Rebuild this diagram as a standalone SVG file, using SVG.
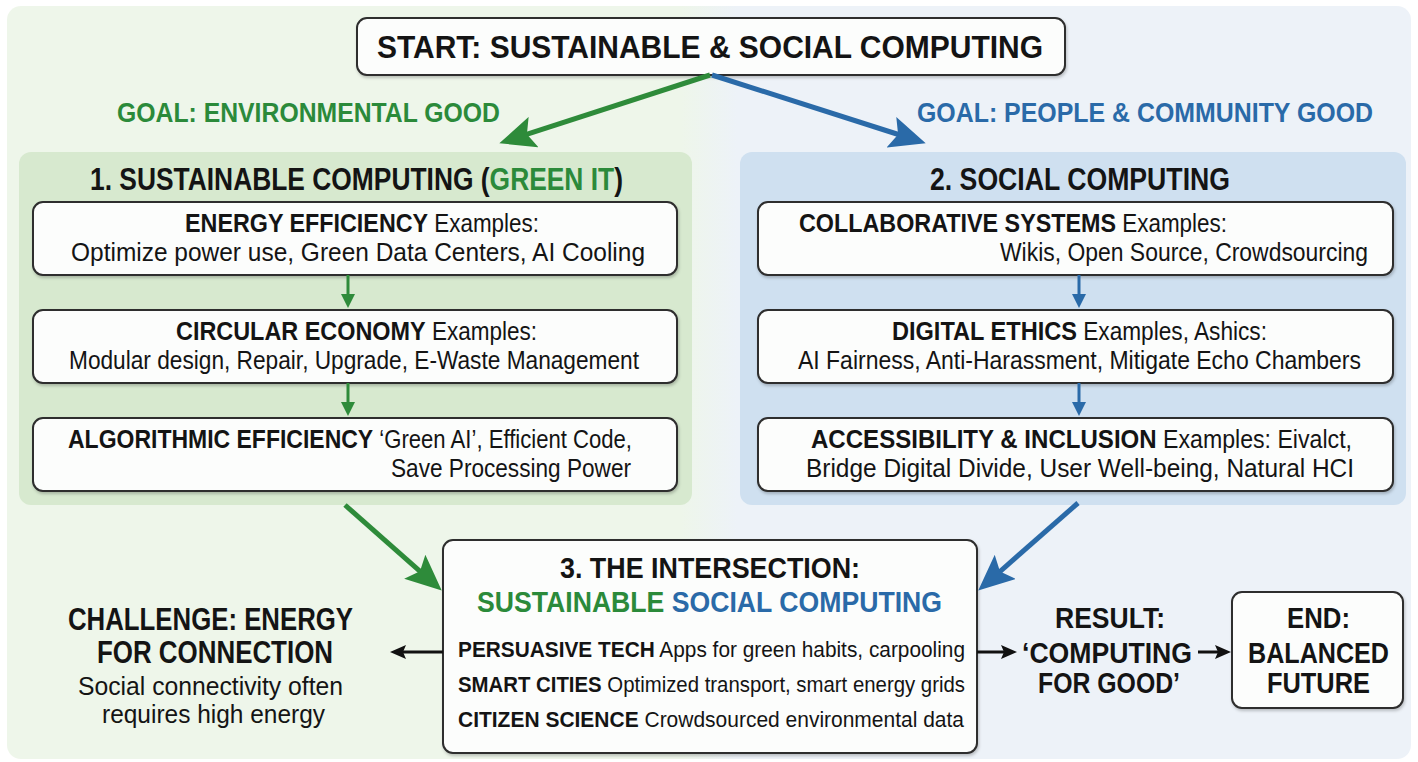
<svg xmlns="http://www.w3.org/2000/svg" width="1418" height="762" viewBox="0 0 1418 762">
  <defs>
    <linearGradient id="bg" x1="0" y1="0" x2="1" y2="0">
      <stop offset="0" stop-color="#eef6ea"/>
      <stop offset="0.48" stop-color="#eef6ea"/>
      <stop offset="0.52" stop-color="#edf2f8"/>
      <stop offset="1" stop-color="#edf2f8"/>
    </linearGradient>
    <filter id="shadow" x="-5%" y="-5%" width="110%" height="115%">
      <feDropShadow dx="1" dy="2" stdDeviation="1.5" flood-color="#000" flood-opacity="0.22"/>
    </filter>
    <marker id="bigG" markerUnits="userSpaceOnUse" markerWidth="36" markerHeight="32" refX="9" refY="16" orient="auto">
      <path d="M0,0 L36,16 L0,32 L7,16 z" fill="#2e8b3a"/>
    </marker>
    <marker id="bigB" markerUnits="userSpaceOnUse" markerWidth="36" markerHeight="32" refX="9" refY="16" orient="auto">
      <path d="M0,0 L36,16 L0,32 L7,16 z" fill="#2a6aa8"/>
    </marker>
    <marker id="smG" markerUnits="userSpaceOnUse" markerWidth="14" markerHeight="14" refX="2" refY="7" orient="auto">
      <path d="M0,0 L14,7 L0,14 z" fill="#2e8b3a"/>
    </marker>
    <marker id="smB" markerUnits="userSpaceOnUse" markerWidth="14" markerHeight="14" refX="2" refY="7" orient="auto">
      <path d="M0,0 L14,7 L0,14 z" fill="#2a6aa8"/>
    </marker>
    <marker id="blk" markerUnits="userSpaceOnUse" markerWidth="16" markerHeight="14" refX="3" refY="7" orient="auto">
      <path d="M0,0 L16,7 L0,14 L3,7 z" fill="#111"/>
    </marker>
  </defs>
  <style>
    text { font-family: "Liberation Sans Narrow", "Liberation Sans", Arial, sans-serif; fill: #141414; }
    .b { font-weight: 700; }
    .r { font-weight: 400; }
    .green { fill: #2b8a3a; }
    .blue { fill: #2a6aa8; }
    .box { fill: #fcfdfc; stroke: #2d2d2d; stroke-width: 2; filter: url(#shadow); }
    .gl { stroke: #2e8b3a; fill: none; }
    .bl { stroke: #2a6aa8; fill: none; }
    .kl { stroke: #111; fill: none; stroke-width: 3; }
  </style>

  <!-- page background -->
  <rect x="0" y="0" width="1418" height="762" fill="#ffffff"/>
  <rect x="7" y="6" width="1404" height="753" rx="14" fill="url(#bg)"/>

  <!-- start node -->
  <g id="start">
    <rect class="box" x="357" y="18" width="708" height="57" rx="10"/>
    <text class="b" x="377" y="58" font-size="31" textLength="666" lengthAdjust="spacingAndGlyphs">START: SUSTAINABLE &amp; SOCIAL COMPUTING</text>
  </g>

  <!-- goal labels -->
  <g id="goal-env">
    <text class="b green" x="117" y="122" font-size="27" textLength="383" lengthAdjust="spacingAndGlyphs">GOAL: ENVIRONMENTAL GOOD</text>
  </g>
  <g id="goal-people">
    <text class="b blue" x="917" y="122" font-size="27" textLength="456" lengthAdjust="spacingAndGlyphs">GOAL: PEOPLE &amp; COMMUNITY GOOD</text>
  </g>

  <!-- 1. sustainable computing panel -->
  <g id="panel-green-it">
    <rect x="19" y="152" width="673" height="353" rx="12" fill="#d7e9cf"/>
    <text class="b" x="90" y="190" font-size="31" textLength="533" lengthAdjust="spacingAndGlyphs">1. SUSTAINABLE COMPUTING (<tspan class="green">GREEN IT</tspan>)</text>
  </g>
  <g id="energy-efficiency">
    <rect class="box" x="33" y="202" width="644" height="73" rx="10"/>
    <text x="185" y="232" font-size="25" textLength="354" lengthAdjust="spacingAndGlyphs"><tspan class="b" font-size="26">ENERGY EFFICIENCY</tspan> Examples:</text>
    <text class="r" x="71" y="261" font-size="25" textLength="574" lengthAdjust="spacingAndGlyphs">Optimize power use, Green Data Centers, AI Cooling</text>
  </g>
  <g id="circular-economy">
    <rect class="box" x="33" y="310" width="644" height="73" rx="10"/>
    <text x="176" y="340" font-size="25" textLength="361" lengthAdjust="spacingAndGlyphs"><tspan class="b" font-size="26">CIRCULAR ECONOMY</tspan> Examples:</text>
    <text class="r" x="69" y="369" font-size="25" textLength="570" lengthAdjust="spacingAndGlyphs">Modular design, Repair, Upgrade, E-Waste Management</text>
  </g>
  <g id="algorithmic-efficiency">
    <rect class="box" x="33" y="418" width="644" height="73" rx="10"/>
    <text x="68" y="448" font-size="25" textLength="564" lengthAdjust="spacingAndGlyphs"><tspan class="b" font-size="26">ALGORITHMIC EFFICIENCY</tspan> ‘Green AI’, Efficient Code,</text>
    <text class="r" x="391" y="477" font-size="25" textLength="240" lengthAdjust="spacingAndGlyphs">Save Processing Power</text>
  </g>

  <!-- 2. social computing panel -->
  <g id="panel-social">
    <rect x="740" y="152" width="666" height="353" rx="12" fill="#cfe0f0"/>
    <text class="b" x="930" y="190" font-size="31" textLength="300" lengthAdjust="spacingAndGlyphs">2. SOCIAL COMPUTING</text>
  </g>
  <g id="collaborative-systems">
    <rect class="box" x="758" y="202" width="635" height="73" rx="10"/>
    <text x="799" y="232" font-size="25" textLength="428" lengthAdjust="spacingAndGlyphs"><tspan class="b" font-size="26">COLLABORATIVE SYSTEMS</tspan> Examples:</text>
    <text class="r" x="1000" y="261" font-size="25" textLength="368" lengthAdjust="spacingAndGlyphs">Wikis, Open Source, Crowdsourcing</text>
  </g>
  <g id="digital-ethics">
    <rect class="box" x="758" y="310" width="635" height="73" rx="10"/>
    <text x="892" y="340" font-size="25" textLength="375" lengthAdjust="spacingAndGlyphs"><tspan class="b" font-size="26">DIGITAL ETHICS</tspan> Examples, Ashics:</text>
    <text class="r" x="798" y="369" font-size="25" textLength="563" lengthAdjust="spacingAndGlyphs">AI Fairness, Anti-Harassment, Mitigate Echo Chambers</text>
  </g>
  <g id="accessibility-inclusion">
    <rect class="box" x="758" y="418" width="635" height="73" rx="10"/>
    <text x="811" y="448" font-size="25" textLength="541" lengthAdjust="spacingAndGlyphs"><tspan class="b" font-size="26">ACCESSIBILITY &amp; INCLUSION</tspan> Examples: Eivalct,</text>
    <text class="r" x="806" y="477" font-size="25" textLength="548" lengthAdjust="spacingAndGlyphs">Bridge Digital Divide, User Well-being, Natural HCI</text>
  </g>

  <!-- 3. intersection -->
  <g id="intersection">
    <rect class="box" x="443" y="540" width="534" height="213" rx="10"/>
    <text class="b" x="560" y="578" font-size="29" textLength="300" lengthAdjust="spacingAndGlyphs">3. THE INTERSECTION:</text>
    <text class="b" x="477" y="612" font-size="29" textLength="465" lengthAdjust="spacingAndGlyphs"><tspan class="green">SUSTAINABLE</tspan> <tspan class="blue">SOCIAL COMPUTING</tspan></text>
    <text x="458" y="657" font-size="22" textLength="507" lengthAdjust="spacingAndGlyphs"><tspan class="b">PERSUASIVE TECH</tspan> Apps for green habits, carpooling</text>
    <text x="458" y="692" font-size="22" textLength="507" lengthAdjust="spacingAndGlyphs"><tspan class="b">SMART CITIES</tspan> Optimized transport, smart energy grids</text>
    <text x="458" y="727" font-size="22" textLength="506" lengthAdjust="spacingAndGlyphs"><tspan class="b">CITIZEN SCIENCE</tspan> Crowdsourced environmental data</text>
  </g>

  <!-- challenge -->
  <g id="challenge">
    <text class="b" x="68" y="630" font-size="31" textLength="285" lengthAdjust="spacingAndGlyphs">CHALLENGE: ENERGY</text>
    <text class="b" x="97" y="663" font-size="31" textLength="236" lengthAdjust="spacingAndGlyphs">FOR CONNECTION</text>
    <text class="r" x="78" y="695" font-size="25" textLength="265" lengthAdjust="spacingAndGlyphs">Social connectivity often</text>
    <text class="r" x="102" y="723" font-size="25" textLength="223" lengthAdjust="spacingAndGlyphs">requires high energy</text>
  </g>

  <!-- result -->
  <g id="result">
    <text class="b" x="1055" y="628" font-size="29" textLength="110" lengthAdjust="spacingAndGlyphs">RESULT:</text>
    <text class="b" x="1022" y="663" font-size="29" textLength="170" lengthAdjust="spacingAndGlyphs">‘COMPUTING</text>
    <text class="b" x="1038" y="693" font-size="29" textLength="142" lengthAdjust="spacingAndGlyphs">FOR GOOD’</text>
  </g>

  <!-- end -->
  <g id="end">
    <rect class="box" x="1232" y="592" width="171" height="116" rx="10"/>
    <text class="b" x="1287" y="628" font-size="29" textLength="63" lengthAdjust="spacingAndGlyphs">END:</text>
    <text class="b" x="1248" y="663" font-size="29" textLength="141" lengthAdjust="spacingAndGlyphs">BALANCED</text>
    <text class="b" x="1267" y="693" font-size="29" textLength="103" lengthAdjust="spacingAndGlyphs">FUTURE</text>
  </g>

  <!-- connectors -->
  <g id="connectors">
    <line class="gl" x1="710" y1="75" x2="525" y2="134.9" stroke-width="5" marker-end="url(#bigG)"/>
    <line class="bl" x1="712" y1="75" x2="900" y2="135" stroke-width="5" marker-end="url(#bigB)"/>

    <line class="gl" x1="348" y1="275" x2="348" y2="296" stroke-width="3" marker-end="url(#smG)"/>
    <line class="gl" x1="348" y1="383" x2="348" y2="404" stroke-width="3" marker-end="url(#smG)"/>
    <line class="bl" x1="1079" y1="275" x2="1079" y2="296" stroke-width="3" marker-end="url(#smB)"/>
    <line class="bl" x1="1079" y1="383" x2="1079" y2="404" stroke-width="3" marker-end="url(#smB)"/>

    <line class="gl" x1="345" y1="505" x2="421.5" y2="572.7" stroke-width="5" marker-end="url(#bigG)"/>
    <line class="bl" x1="1078" y1="503" x2="998.5" y2="572.8" stroke-width="5" marker-end="url(#bigB)"/>

    <line class="kl" x1="443" y1="652" x2="403" y2="652" marker-end="url(#blk)"/>
    <line class="kl" x1="977" y1="652" x2="1004" y2="652" marker-end="url(#blk)"/>
    <line class="kl" x1="1198" y1="652" x2="1218" y2="652" marker-end="url(#blk)"/>
  </g>
</svg>
